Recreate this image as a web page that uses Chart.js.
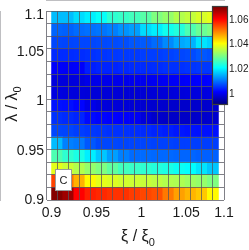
<!DOCTYPE html>
<html><head><meta charset="utf-8">
<script src="https://cdn.jsdelivr.net/npm/chart.js@4/dist/chart.umd.min.js"></script>
<style>html,body{margin:0;padding:0;background:#fff;overflow:hidden}canvas{display:block}</style>
</head><body>
<canvas id="c" width="249" height="250"></canvas>
<script>
// cell centres (xi / xi0 and lambda / lambda0)
const xiCenters = [0.9062, 0.9186, 0.9310, 0.9434, 0.9558, 0.9682, 0.9806, 0.9930, 1.0054, 1.0178, 1.0302, 1.0426, 1.0550, 1.0674, 1.0798];
const lambdaCenters = [0.9064, 0.9192, 0.9320, 0.9448, 0.9576, 0.9704, 0.9832, 0.9960, 1.0088, 1.0216, 1.0344, 1.0472, 1.0600, 1.0728, 1.0856];
// values per row, bottom (lowest lambda) to top
const row01 = [1.0700, 1.0680, 1.0606, 1.0582, 1.0575, 1.0568, 1.0568, 1.0560, 1.0552, 1.0545, 1.0513, 1.0483, 1.0467, 1.0452, 1.0414];
const row02 = [1.0555, 1.0520, 1.0469, 1.0414, 1.0390, 1.0383, 1.0375, 1.0371, 1.0367, 1.0359, 1.0351, 1.0347, 1.0336, 1.0328, 1.0312];
const row03 = [1.0390, 1.0371, 1.0351, 1.0328, 1.0312, 1.0288, 1.0265, 1.0257, 1.0249, 1.0241, 1.0234, 1.0222, 1.0214, 1.0194, 1.0171];
const row04 = [1.0273, 1.0249, 1.0234, 1.0202, 1.0171, 1.0140, 1.0116, 1.0100, 1.0100, 1.0098, 1.0098, 1.0096, 1.0096, 1.0092, 1.0092];
const row05 = [1.0163, 1.0116, 1.0110, 1.0085, 1.0072, 1.0072, 1.0070, 1.0070, 1.0070, 1.0068, 1.0068, 1.0066, 1.0066, 1.0065, 1.0065];
const row06 = [1.0072, 1.0070, 1.0065, 1.0060, 1.0058, 1.0055, 1.0055, 1.0052, 1.0050, 1.0045, 1.0040, 1.0035, 1.0032, 1.0030, 1.0030];
const row07 = [1.0055, 1.0050, 1.0045, 1.0025, 1.0020, 1.0018, 1.0015, 1.0010, 0.9990, 0.9978, 0.9975, 0.9975, 0.9975, 0.9978, 0.9980];
const row08 = [1.0030, 1.0028, 1.0020, 1.0000, 0.9990, 0.9988, 0.9987, 0.9985, 0.9982, 0.9980, 0.9979, 0.9978, 0.9978, 0.9979, 0.9980];
const row09 = [0.9995, 0.9992, 0.9990, 0.9988, 0.9987, 0.9987, 0.9986, 0.9986, 0.9986, 0.9987, 0.9988, 0.9990, 0.9992, 0.9993, 0.9995];
const row10 = [0.9992, 0.9990, 0.9992, 1.0000, 1.0002, 1.0002, 1.0003, 1.0005, 1.0005, 1.0008, 1.0010, 1.0012, 1.0015, 1.0018, 1.0020];
const row11 = [1.0015, 1.0012, 1.0015, 1.0040, 1.0045, 1.0045, 1.0048, 1.0050, 1.0050, 1.0052, 1.0055, 1.0055, 1.0058, 1.0060, 1.0060];
const row12 = [1.0050, 1.0050, 1.0052, 1.0055, 1.0058, 1.0060, 1.0062, 1.0062, 1.0065, 1.0065, 1.0068, 1.0072, 1.0075, 1.0085, 1.0080];
const row13 = [1.0072, 1.0070, 1.0072, 1.0072, 1.0074, 1.0076, 1.0078, 1.0085, 1.0087, 1.0100, 1.0124, 1.0147, 1.0155, 1.0194, 1.0180];
const row14 = [1.0095, 1.0092, 1.0100, 1.0104, 1.0108, 1.0116, 1.0132, 1.0140, 1.0187, 1.0202, 1.0226, 1.0241, 1.0273, 1.0296, 1.0310];
const row15 = [1.0163, 1.0163, 1.0187, 1.0202, 1.0218, 1.0249, 1.0257, 1.0265, 1.0281, 1.0312, 1.0328, 1.0351, 1.0363, 1.0379, 1.0390];
const xTickLabels = [0.9, 0.95, 1, 1.05, 1.1];
const yTickLabels = [0.9, 0.95, 1, 1.05, 1.1];
const colorRange = [0.992, 1.0704];
const colorbarTicks = [1, 1.02, 1.04, 1.06];
const panelLabel = 'C';

const rows = [row01,row02,row03,row04,row05,row06,row07,row08,row09,row10,row11,row12,row13,row14,row15];
function edgesOf(c){ const h=(c[1]-c[0])/2; const e=c.map(v=>+(v-h).toFixed(5)); e.push(+(c[c.length-1]+h).toFixed(5)); return e; }
const xEdges = edgesOf(xiCenters), yEdges = edgesOf(lambdaCenters);

function jet(v){
  const t=Math.min(1,Math.max(0,(v-colorRange[0])/(colorRange[1]-colorRange[0])));
  const f=x=>Math.round(255*Math.min(1,Math.max(0,1.5-Math.abs(x))));
  return 'rgb('+f(4*t-3)+','+f(4*t-2)+','+f(4*t-1)+')';
}

const datasets = rows.map((vals,r)=>({
  data: xiCenters.map((x,c)=>({x:x, y:[yEdges[r], yEdges[r+1]]})),
  backgroundColor: vals.map(jet),
  borderWidth: 0,
  grouped: false,
  barPercentage: 1,
  categoryPercentage: 1
}));

const FONT='"Liberation Sans", Arial, Helvetica, sans-serif';
const deco = {
  id:'deco',
  afterDraw(chart){
    const ctx=chart.ctx, a=chart.chartArea, xs=chart.scales.x, ys=chart.scales.y;
    ctx.save();
    ctx.fillStyle='#1a1a1a';
    ctx.font='14px '+FONT;
    ctx.textAlign='center'; ctx.textBaseline='alphabetic';
    xTickLabels.forEach(v=>{
      const px=Math.min(a.right,Math.max(a.left,xs.getPixelForValue(v)));
      ctx.fillText(String(v),px,a.bottom+16.5);
    });
    ctx.textAlign='right'; ctx.textBaseline='middle';
    yTickLabels.forEach(v=>{
      const py=Math.max(a.top+4.5,ys.getPixelForValue(v));
      ctx.fillText(String(v),a.left-2,py);
    });
    // axis titles
    ctx.textAlign='left'; ctx.textBaseline='alphabetic';
    const drawTitle=(main,sub,cx,cy,rot)=>{
      ctx.save(); ctx.translate(cx,cy); if(rot) ctx.rotate(-Math.PI/2);
      ctx.font='16px '+FONT; const w1=ctx.measureText(main).width;
      ctx.font='11px '+FONT; const w2=ctx.measureText(sub).width;
      const x0=-(w1+w2)/2;
      ctx.font='16px '+FONT; ctx.fillText(main,x0,0);
      ctx.font='11px '+FONT; ctx.fillText(sub,x0+w1,4.5);
      ctx.restore();
    };
    drawTitle('\u03be / \u03be','0',a.left+92,a.bottom+41,false);
    drawTitle('\u03bb / \u03bb','0',16.5,a.top+93,true);
    // colorbar
    const cbL=a.right-11, cbR=a.right+3, cbT=a.top-4, cbB=a.top+93;
    const g=ctx.createLinearGradient(0,cbB,0,cbT);
    for(let i=0;i<=40;i++){ g.addColorStop(i/40, jet(colorRange[0]+i/40*(colorRange[1]-colorRange[0]))); }
    ctx.fillStyle=g; ctx.fillRect(cbL,cbT,cbR-cbL,cbB-cbT);
    ctx.strokeStyle='#3c3c3c'; ctx.lineWidth=1.2;
    ctx.strokeRect(cbL-0.5,cbT-0.5,cbR-cbL+1,cbB-cbT+1);
    ctx.fillStyle='#1a1a1a'; ctx.font='10px '+FONT; ctx.textAlign='left'; ctx.textBaseline='middle';
    colorbarTicks.forEach(v=>{
      const py=cbB-(v-colorRange[0])/(colorRange[1]-colorRange[0])*(cbB-cbT);
      ctx.fillText(String(v),cbR+2,py);
    });
    // panel label
    const bx=a.left+9, by=a.bottom-31;
    ctx.fillStyle='#fff'; ctx.fillRect(bx,by,17,22);
    ctx.strokeStyle='#9a9a9a'; ctx.lineWidth=1; ctx.strokeRect(bx+0.5,by+0.5,16,21);
    ctx.fillStyle='#222'; ctx.font='11px '+FONT; ctx.textAlign='center'; ctx.textBaseline='middle';
    ctx.fillText(panelLabel,bx+8.5,by+11.5);
    ctx.restore();
  }
};

const gridStyle={color:'rgba(85,85,95,0.75)', lineWidth:1, drawTicks:false, z:1};
new Chart(document.getElementById('c'),{
  type:'bar',
  data:{datasets},
  options:{
    responsive:false, animation:false, devicePixelRatio:1,
    layout:{padding:{left:46,right:25,top:11,bottom:50}},
    plugins:{legend:{display:false},tooltip:{enabled:false}},
    scales:{
      x:{type:'linear',min:xEdges[0],max:xEdges[xEdges.length-1],
         afterBuildTicks:s=>{s.ticks=xEdges.map(v=>({value:v}));},
         ticks:{display:false}, grid:gridStyle, border:{display:true,color:'rgba(85,85,95,0.75)'}},
      y:{type:'linear',min:yEdges[0],max:yEdges[yEdges.length-1],
         afterBuildTicks:s=>{s.ticks=yEdges.map(v=>({value:v}));},
         ticks:{display:false}, grid:gridStyle, border:{display:true,color:'rgba(85,85,95,0.75)'}}
    }
  },
  plugins:[deco]
});
</script>
</body></html>
